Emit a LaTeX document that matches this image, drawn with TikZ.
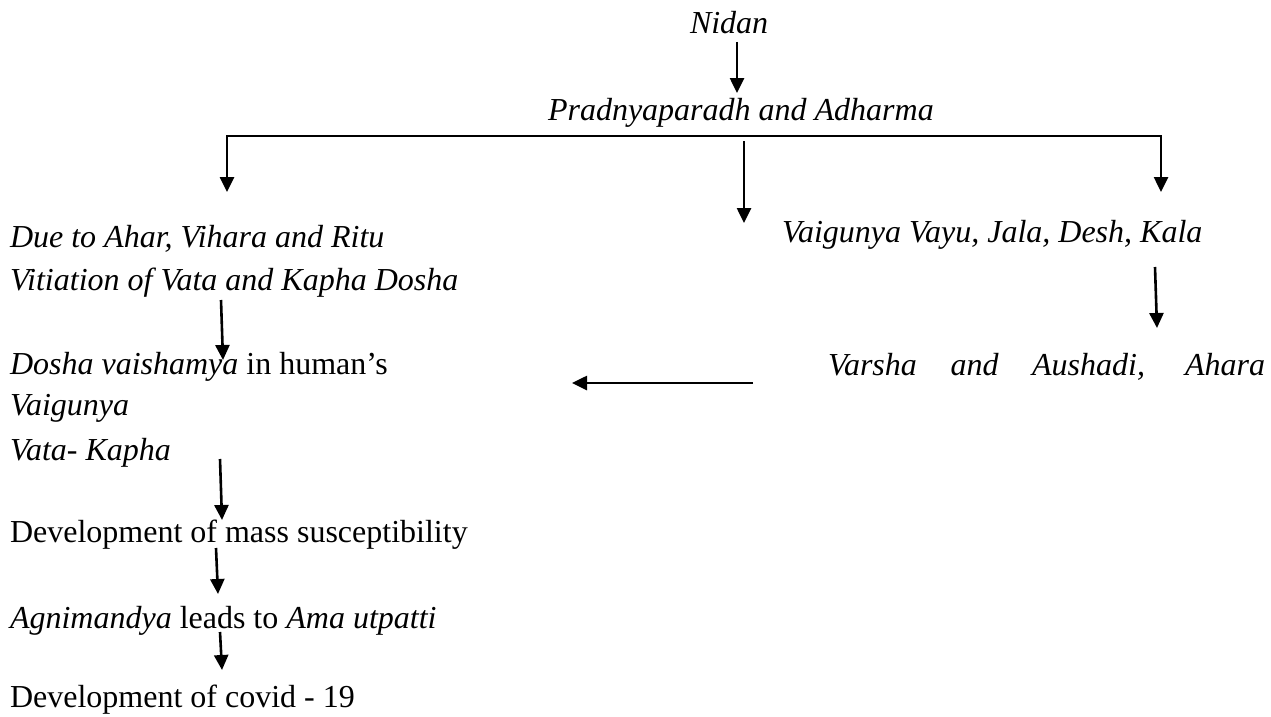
\documentclass[tikz,border=0pt]{standalone}
\usepackage{fontspec}
\setmainfont{Liberation Serif}
\usetikzlibrary{arrows.meta}
\tikzset{
  txt/.style={inner sep=0pt, outer sep=0pt, anchor=base west, font=\fontsize{32}{38}\selectfont},
  arr/.style={line width=2.6pt, -{Triangle[width=14pt,length=15pt]}},
  ln/.style={line width=2.6pt}
}
\begin{document}
\begin{tikzpicture}[x=1pt,y=-1pt]
\useasboundingbox (0,0) rectangle (1271,717);
% texts
\node[txt] (nidan) at (690,34) {\itshape Nidan};
\node[txt] (prad) at (548,120) {\itshape Pradnyaparadh and Adharma};
\node[txt] (due) at (10,247) {\itshape Due to Ahar, Vihara and Ritu};
\node[txt] (vit) at (10,290) {\itshape Vitiation of Vata and Kapha Dosha};
\node[txt] (vvayu) at (782,242) {\itshape Vaigunya Vayu, Jala, Desh, Kala};
\node[txt] (dosha) at (10,374) {\textit{Dosha vaishamya} in human’s};
\node[txt] (varsha) at (828,375) {\itshape\makebox[437pt][s]{Varsha and Aushadi, Ahara}};
\node[txt] (vaig) at (10,415) {\itshape Vaigunya};
\node[txt] (vk) at (10,460) {\itshape Vata- Kapha};
\node[txt] (mass) at (10,542) {Development of mass susceptibility};
\node[txt] (agni) at (10,628) {\textit{Agnimandya} leads to \textit{Ama utpatti}};
\node[txt] (covid) at (10,707) {Development of covid - 19};
% connector points
\coordinate (n1) at (737,42);   \coordinate (n2) at (737,93);
\coordinate (bl) at (227,136);  \coordinate (br) at (1161,136);
\coordinate (blt) at (227,192); \coordinate (brt) at (1161,192);
\coordinate (m1) at (744,141);  \coordinate (m2) at (744,223);
\coordinate (r1) at (1155,267); \coordinate (r2) at (1157,328);
\coordinate (h1) at (753,383);  \coordinate (h2) at (572,383);
\coordinate (v1) at (221,300);  \coordinate (v2) at (223,360);
\coordinate (k1) at (220,459);  \coordinate (k2) at (222,520);
\coordinate (d1) at (216,548);  \coordinate (d2) at (218,594);
\coordinate (a1) at (220,632);  \coordinate (a2) at (222,670);
% connectors
\draw[arr] (n1) -- (n2);
\draw[ln, line cap=rect] (bl) -- (br);
\draw[arr] (bl) -- (blt);
\draw[arr] (br) -- (brt);
\draw[arr] (m1) -- (m2);
\draw[arr] (r1) -- (r2);
\draw[arr] (h1) -- (h2);
\draw[arr] (v1) -- (v2);
\draw[arr] (k1) -- (k2);
\draw[arr] (d1) -- (d2);
\draw[arr] (a1) -- (a2);
\end{tikzpicture}
\end{document}
